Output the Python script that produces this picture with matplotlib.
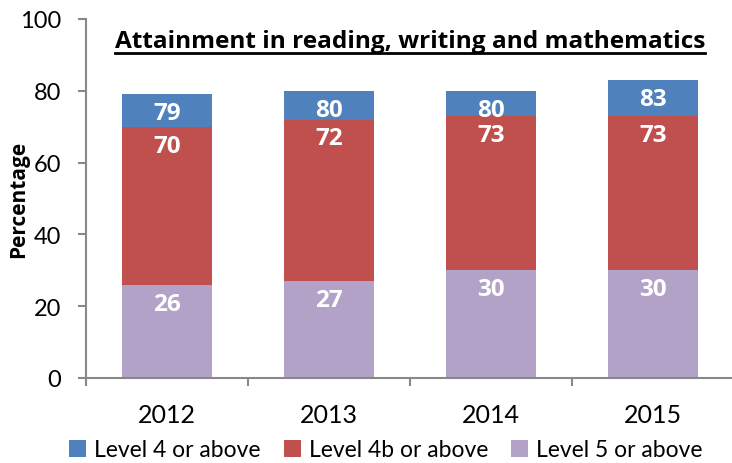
import matplotlib
matplotlib.use("Agg")
import matplotlib.pyplot as plt
from matplotlib.lines import Line2D

years = ["2012", "2013", "2014", "2015"]
level4 = [79, 80, 80, 83]
level4b = [70, 72, 73, 73]
level5 = [26, 27, 30, 30]

series = [
    ("Level 4 or above", level4, "#4F81BD"),
    ("Level 4b or above", level4b, "#C0504D"),
    ("Level 5 or above", level5, "#B3A2C7"),
]

plt.rcParams["font.family"] = ["Lato", "DejaVu Sans"]
bold_font = ["Open Sans", "DejaVu Sans"]

fig = plt.figure(figsize=(7.32, 4.64), dpi=100)
ax = fig.add_axes([86 / 732, 1 - 379 / 464, 648 / 732, 359 / 464])

x = list(range(len(years)))
handles = []
for name, vals, col in series:
    bars = ax.bar(x, vals, width=0.55, color=col, label=name, zorder=2)
    handles.append(bars)
    for xi, v in zip(x, vals):
        ax.annotate(str(v), (xi, v), xytext=(0, -5), textcoords="offset points",
                    ha="center", va="top", color="white", fontsize=17.5,
                    fontweight="bold", family=bold_font, zorder=3)

ax.set_xlim(-0.5, 3.5)
ax.set_ylim(0, 100)
ax.set_yticks(range(0, 101, 20))
ax.set_xticks(x)
ax.set_xticklabels(years)
ax.set_xticks([i - 0.5 for i in range(len(years) + 1)], minor=True)
ax.tick_params(axis="x", which="major", length=0, pad=18, labelsize=18)
ax.tick_params(axis="x", which="minor", length=6, color="#888888", width=1.5)
ax.tick_params(axis="y", length=6, color="#888888", width=1.5, labelsize=17, pad=12)

for s in ["top", "right"]:
    ax.spines[s].set_visible(False)
for s in ["left", "bottom"]:
    ax.spines[s].set_color("#888888")
    ax.spines[s].set_linewidth(1.5)

ax.set_ylabel("Percentage", fontsize=15, fontweight="bold", family=bold_font)
ax.yaxis.set_label_coords(-0.088, 0.5)

title = ax.text(0.5, 0.922, "Attainment in reading, writing and mathematics",
                transform=ax.transAxes, ha="center", va="baseline",
                fontsize=17, fontweight="bold", family=bold_font)

fig.legend(handles=handles, loc="center", bbox_to_anchor=(386 / 732, 1 - 451 / 464),
           ncol=3, frameon=False, fontsize=16.5, handlelength=0.75, handleheight=0.75,
           handletextpad=0.35, columnspacing=1.0, borderpad=0)

# fit title to the reference width and underline it
fig.canvas.draw()
w = title.get_window_extent().width
title.set_fontsize(17 * 590 / w)
fig.canvas.draw()
bb = title.get_window_extent().transformed(fig.transFigure.inverted())
uy = 1 - 54 / 464
fig.add_artist(Line2D([bb.x0, bb.x1], [uy, uy], color="black", linewidth=2,
                      transform=fig.transFigure))

fig.savefig("out.png", dpi=100)
